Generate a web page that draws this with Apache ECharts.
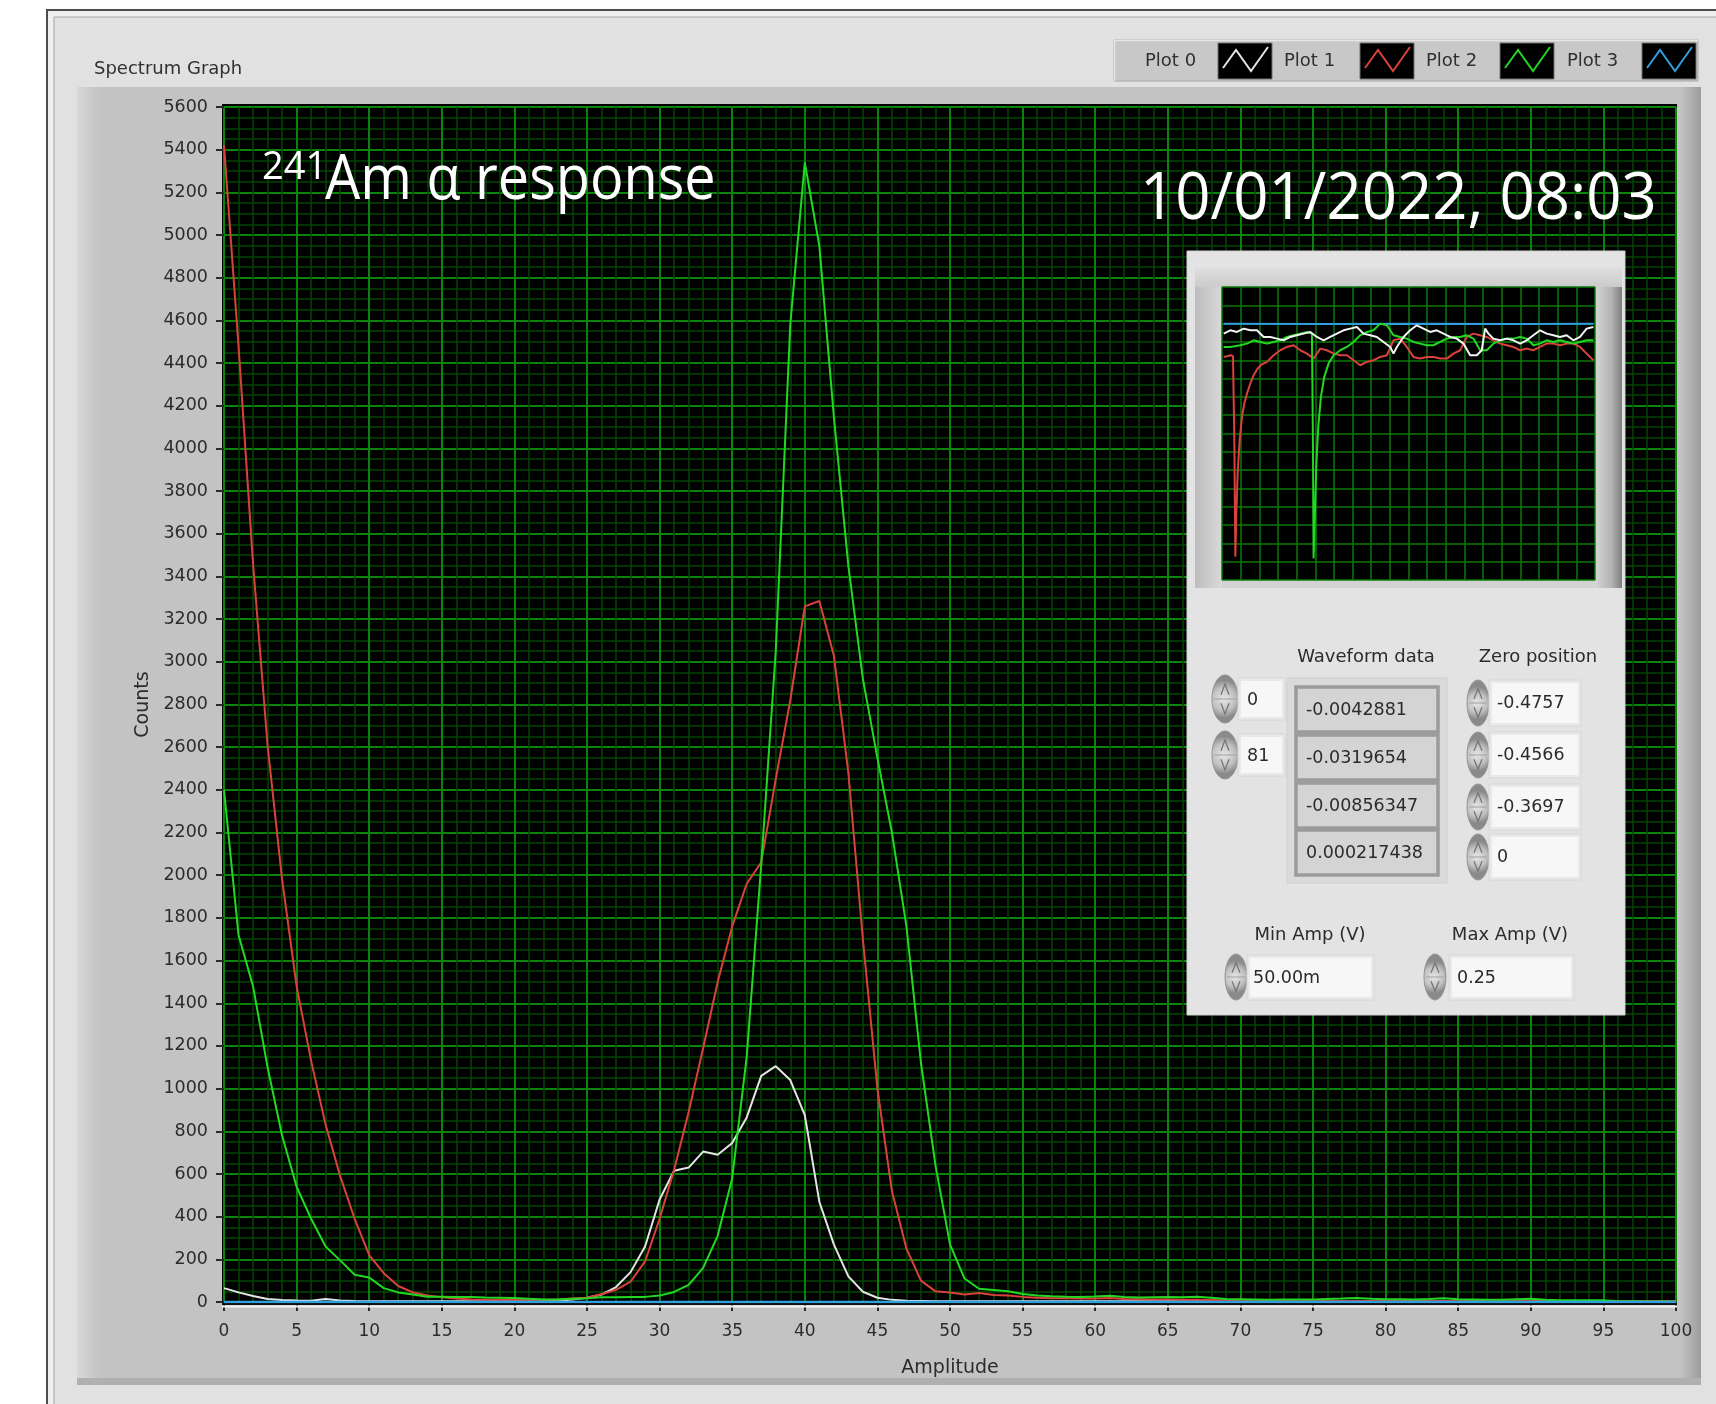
<!DOCTYPE html>
<html>
<head>
<meta charset="utf-8">
<title>Spectrum Graph</title>
<script src="https://cdn.jsdelivr.net/npm/echarts@6.0.0/dist/echarts.min.js"></script>
<style>
  html, body { margin: 0; padding: 0; background: #ffffff; }
  #chart { width: 1716px; height: 1404px; }
</style>
</head>
<body>
<div id="chart"></div>
<script>
// ---- Spectrum histogram: counts per amplitude bin (bins 0..100) ----
const plot0Counts = [
  65,45,28,14,9,7,6,14,7,5,
  4,4,3,3,3,4,4,3,3,4,
  4,3,4,6,12,20,35,70,140,260,
  480,615,630,705,690,745,865,1060,1105,1040,
  876,470,270,120,48,20,10,6,5,4,
  4,4,3,3,4,3,3,3,4,3,
  3,3,3,4,3,3,3,3,3,4,
  3,3,3,3,3,3,4,3,3,3,
  3,3,3,3,3,4,3,3,3,3,
  3,3,3,3,3,3,3,3,3,3,
  3
];
const plot1Counts = [
  5420,4480,3460,2610,1980,1480,1130,830,590,390,
  220,135,75,45,30,22,16,12,11,10,
  11,10,11,12,16,20,36,57,95,190,
  390,620,890,1190,1500,1760,1960,2060,2450,2820,
  3260,3285,3030,2480,1700,1000,520,250,100,50,
  45,35,42,33,30,24,20,18,17,16,
  16,19,14,13,12,12,11,10,9,8,
  8,8,7,7,6,6,5,5,5,5,
  5,5,4,5,5,5,4,5,5,5,
  5,4,5,5,4,5,5,4,5,5,
  5
];
const plot2Counts = [
  2400,1720,1480,1100,780,540,390,260,195,128,
  115,65,45,35,25,25,24,23,21,20,
  19,15,12,12,15,18,22,22,23,24,
  30,47,80,160,310,580,1150,2050,3050,4580,
  5340,4950,4150,3450,2920,2550,2200,1760,1120,640,
  270,110,62,56,50,38,30,27,25,24,
  26,29,24,21,22,23,22,25,20,14,
  13,12,11,12,12,12,14,16,19,15,
  13,13,12,14,18,13,12,11,11,13,
  15,10,8,8,8,8,4,3,2,2,
  2
];
const plot3Counts = [
  0,0,0,0,0,0,0,0,0,0, 0,0,0,0,0,0,0,0,0,0,
  0,0,0,0,0,0,0,0,0,0, 0,0,0,0,0,0,0,0,0,0,
  0,0,0,0,0,0,0,0,0,0, 0,0,0,0,0,0,0,0,0,0,
  0,0,0,0,0,0,0,0,0,0, 0,0,0,0,0,0,0,0,0,0,
  0,0,0,0,0,0,0,0,0,0, 0,0,0,0,0,0,0,0,0,0,
  0
];
const plotNames = ['Plot 0', 'Plot 1', 'Plot 2', 'Plot 3'];

// ---- Live waveform traces in the scope display: [sample, level] ----
const scopeTrace0 = [[5,-140],[25,-130],[45,-135],[65,-125],[85,-130],[105,-130],[125,-150],[145,-150],[165,-155],[185,-160],[205,-150],[225,-145],[245,-140],[265,-135],[285,-150],[305,-160],[325,-150],[345,-140],[365,-130],[385,-125],[405,-120],[425,-140],[445,-145],[465,-150],[485,-165],[505,-180],[515,-200],[525,-180],[545,-150],[565,-130],[585,-115],[605,-125],[625,-135],[645,-130],[665,-140],[685,-150],[705,-155],[725,-170],[745,-205],[765,-205],[780,-190],[790,-125],[800,-140],[815,-155],[835,-160],[855,-155],[875,-160],[895,-170],[915,-160],[935,-145],[955,-130],[975,-140],[995,-145],[1015,-150],[1035,-145],[1055,-160],[1075,-150],[1095,-125],[1115,-120]];
const scopeTrace1 = [[5,-210],[15,-208],[25,-205],[33,-207],[37,-460],[40,-810],[43,-680],[47,-560],[53,-460],[60,-390],[67,-350],[75,-320],[85,-290],[95,-265],[107,-245],[120,-232],[135,-225],[155,-205],[175,-190],[195,-180],[215,-175],[235,-190],[255,-200],[275,-215],[295,-185],[315,-190],[335,-200],[355,-205],[375,-205],[395,-220],[415,-235],[435,-225],[455,-220],[475,-210],[495,-205],[515,-160],[535,-155],[555,-180],[575,-210],[595,-215],[615,-210],[635,-210],[655,-215],[675,-215],[695,-200],[715,-190],[735,-150],[755,-140],[775,-145],[795,-150],[815,-160],[835,-170],[855,-175],[875,-180],[895,-190],[915,-185],[935,-190],[955,-180],[975,-170],[995,-170],[1015,-175],[1035,-170],[1055,-170],[1075,-180],[1095,-200],[1115,-220]];
const scopeTrace2 = [[5,-180],[25,-180],[55,-175],[75,-170],[95,-160],[115,-165],[135,-170],[155,-165],[175,-160],[195,-150],[215,-145],[235,-140],[255,-135],[270,-140],[273,-460],[275,-815],[279,-680],[283,-540],[289,-420],[297,-330],[307,-270],[320,-230],[335,-205],[355,-190],[375,-180],[395,-165],[415,-145],[435,-135],[455,-130],[475,-110],[495,-115],[515,-145],[535,-150],[555,-155],[575,-165],[595,-170],[615,-175],[635,-175],[655,-165],[675,-155],[695,-150],[715,-150],[735,-145],[755,-155],[775,-190],[795,-190],[815,-170],[835,-160],[855,-155],[875,-155],[895,-150],[915,-155],[935,-175],[955,-170],[975,-160],[995,-165],[1015,-160],[1035,-165],[1055,-170],[1075,-165],[1095,-160],[1115,-160]];
const scopeTrace3 = [[5,-110],[300,-111],[600,-110],[900,-111],[1115,-110]];

// ---- Front-panel indicator values ----
const indexValues = ['0', '81'];
const waveformData = ['-0.0042881', '-0.0319654', '-0.00856347', '0.000217438'];
const zeroPosition = ['-0.4757', '-0.4566', '-0.3697', '0'];
const minAmpText = '50.00m';
const maxAmpText = '0.25';

// Plot colours
const plotColors = ['#e4e4e4', '#d9423c', '#22d822', '#2f9fe0'];
const gridMajor = '#0a840a';
const gridMinor = '#024602';
const uiFont = '"DejaVu Sans", "Liberation Sans", sans-serif';
const textDark = '#2b2b2b';

const amplitudeBins = plot0Counts.map((_, i) => i);
const toXY = arr => arr.map((v, i) => [amplitudeBins[i], v]);

// ---- helpers for the front-panel decoration ----
function rect(x, y, w, h, style, z) {
  return { type: 'rect', shape: { x: x, y: y, width: w, height: h }, style: style, z: z, silent: true };
}
function label(x, y, str, opts) {
  opts = opts || {};
  return {
    type: 'text', x: x, y: y, z: opts.z || 20, silent: true,
    scaleX: opts.scaleX || 1,
    style: {
      text: str,
      fill: opts.fill || textDark,
      font: opts.font || ('18px ' + uiFont),
      textAlign: opts.align || 'left', align: opts.align || 'left',
      textVerticalAlign: 'middle', verticalAlign: 'middle'
    }
  };
}
function spinner(cx, cy, rx, ry, z) {
  const els = [];
  els.push({
    type: 'ellipse', shape: { cx: cx, cy: cy, rx: rx, ry: ry }, z: z, silent: true,
    style: {
      fill: { type: 'radial', x: 0.45, y: 0.5, r: 0.7,
        colorStops: [{ offset: 0, color: '#e6e6e6' }, { offset: 0.6, color: '#c2c2c2' }, { offset: 1, color: '#8a8a8a' }] },
      stroke: '#969696', lineWidth: 1
    }
  });
  els.push({ type: 'polyline', z: z + 1, silent: true,
    shape: { points: [[cx - 4, cy - ry * 0.18], [cx, cy - ry * 0.62], [cx + 4, cy - ry * 0.18]] },
    style: { stroke: '#777777', lineWidth: 1.3, fill: null } });
  els.push({ type: 'polyline', z: z + 1, silent: true,
    shape: { points: [[cx - 4, cy + ry * 0.18], [cx, cy + ry * 0.62], [cx + 4, cy + ry * 0.18]] },
    style: { stroke: '#777777', lineWidth: 1.3, fill: null } });
  els.push({ type: 'line', z: z + 1, silent: true,
    shape: { x1: cx - rx + 2, y1: cy, x2: cx + rx - 2, y2: cy },
    style: { stroke: '#a0a0a0', lineWidth: 1 } });
  return els;
}
function field(x, y, w, h, z) {
  return [
    rect(x - 3, y - 3, w + 6, h + 6, { fill: '#e9e9e9', stroke: '#d6d6d6', lineWidth: 1 }, z),
    rect(x, y, w, h, { fill: '#f7f7f7' }, z + 1)
  ];
}

const elements = [];

// outer front-panel frame
elements.push(rect(47, 10, 1720, 1430, { fill: '#efefef', stroke: '#4c4c4c', lineWidth: 2 }, -30));
elements.push(rect(54, 17, 1720, 1430, { fill: '#e1e1e1', stroke: '#a4a4a4', lineWidth: 1 }, -29));

// graph body with bevelled edges
elements.push(rect(77, 87, 1624, 1298, { fill: '#c3c3c3' }, -25));
elements.push(rect(77, 87, 22, 1298, {
  fill: { type: 'linear', x: 0, y: 0, x2: 1, y2: 0,
    colorStops: [{ offset: 0, color: '#d8d8d8' }, { offset: 1, color: '#c3c3c3' }] } }, -24));
elements.push(rect(1680, 87, 21, 1298, {
  fill: { type: 'linear', x: 0, y: 0, x2: 1, y2: 0,
    colorStops: [{ offset: 0, color: '#c3c3c3' }, { offset: 1, color: '#9c9c9c' }] } }, -24));
elements.push(rect(77, 1378, 1624, 7, { fill: '#b0b0b0' }, -24));

// plot background
elements.push(rect(222, 104, 1455, 1199, { fill: '#000000' }, -5));
// x axis double rule
elements.push({ type: 'line', z: 1, silent: true, shape: { x1: 222, y1: 1304, x2: 1677, y2: 1304 }, style: { stroke: '#111', lineWidth: 2 } });
elements.push({ type: 'line', z: 1, silent: true, shape: { x1: 222, y1: 1306.5, x2: 1677, y2: 1306.5 }, style: { stroke: '#f4f4f4', lineWidth: 2 } });

// graph caption
elements.push(label(94, 69, 'Spectrum Graph', { font: '18px ' + uiFont, fill: '#303030' }));

// plot legend box
elements.push(rect(1114, 40, 584, 41, { fill: '#c8c8c8', stroke: '#a8a8a8', lineWidth: 1 }, 18));
elements.push({ type: 'line', z: 19, silent: true, shape: { x1: 1114, y1: 40.5, x2: 1698, y2: 40.5 }, style: { stroke: '#e6e6e6', lineWidth: 1.5 } });
elements.push({ type: 'line', z: 19, silent: true, shape: { x1: 1114.5, y1: 40, x2: 1114.5, y2: 81 }, style: { stroke: '#e6e6e6', lineWidth: 1.5 } });
const legendTextX = [1145, 1284, 1426, 1567];
const legendSwatchX = [1218, 1360, 1500, 1642];
plotNames.forEach((name, i) => {
  elements.push(label(legendTextX[i], 61, name, { font: '18px ' + uiFont, fill: '#303030', z: 20 }));
  const sx = legendSwatchX[i];
  elements.push(rect(sx, 43, 54, 36, { fill: '#000', stroke: '#6e6e6e', lineWidth: 1 }, 20));
  elements.push({ type: 'polyline', z: 21, silent: true,
    shape: { points: [[sx + 5, 68], [sx + 18, 50], [sx + 33, 71], [sx + 50, 47]] },
    style: { stroke: plotColors[i], lineWidth: 2, fill: null } });
});

// annotation texts on the plot
elements.push(label(262, 168, '241', { font: '38px "Open Sans", sans-serif', fill: '#ffffff', scaleX: 1.0, z: 30 }));
elements.push(label(325, 181, 'Am \u03b1 response', { font: '62px "Open Sans", sans-serif', fill: '#ffffff', scaleX: 0.9, z: 30 }));
elements.push(label(1140, 200, '10/01/2022, 08:03', { font: '66px "Open Sans", sans-serif', fill: '#ffffff', scaleX: 0.935, z: 30 }));

// ---- scope / control panel ----
elements.push(rect(1187, 251, 438, 764, { fill: '#e3e3e3', stroke: '#d0d0d0', lineWidth: 1 }, 10));
// scope bezel
elements.push(rect(1195, 268, 427, 320, { fill: '#d3d3d3' }, 10));
elements.push(rect(1195, 268, 27, 320, {
  fill: { type: 'linear', x: 0, y: 0, x2: 1, y2: 0,
    colorStops: [{ offset: 0, color: '#bdbdbd' }, { offset: 1, color: '#d9d9d9' }] } }, 10));
elements.push(rect(1595, 268, 27, 320, {
  fill: { type: 'linear', x: 0, y: 0, x2: 1, y2: 0,
    colorStops: [{ offset: 0, color: '#d6d6d6' }, { offset: 0.6, color: '#b4b4b4' }, { offset: 1, color: '#7e7e7e' }] } }, 10));
elements.push(rect(1195, 268, 427, 19, {
  fill: { type: 'linear', x: 0, y: 0, x2: 0, y2: 1,
    colorStops: [{ offset: 0, color: '#dedede' }, { offset: 1, color: '#cbcbcb' }] } }, 10));
elements.push(rect(1222, 287, 373, 293, { fill: '#000000' }, 11));

// index controls
indexValues.forEach((v, i) => {
  const cy = i === 0 ? 699 : 755;
  spinner(1225, cy, 13, 24, 12).forEach(e => elements.push(e));
  field(1241, cy - 18, 41, 36, 12).forEach(e => elements.push(e));
  elements.push(label(1247, cy + 1, v, { font: '17.5px ' + uiFont, z: 20 }));
});

// waveform data array
elements.push(label(1366, 657, 'Waveform data', { font: '18px ' + uiFont, align: 'center' }));
elements.push(rect(1287, 678, 160, 205, { fill: '#dadada', stroke: '#cfcfcf', lineWidth: 1 }, 12));
const cellTops = [687, 735, 783, 830];
waveformData.forEach((v, i) => {
  elements.push(rect(1296, cellTops[i], 142, 45, { fill: '#d4d4d4', stroke: '#9b9b9b', lineWidth: 3.5 }, 13));
  elements.push(label(1306, cellTops[i] + 23, v, { font: '17.5px ' + uiFont, z: 20 }));
});

// zero position controls
elements.push(label(1538, 657, 'Zero position', { font: '18px ' + uiFont, align: 'center' }));
const zeroRows = [703, 755, 807, 857];
zeroPosition.forEach((v, i) => {
  const cy = zeroRows[i];
  spinner(1478, cy, 11, 23, 12).forEach(e => elements.push(e));
  field(1492, cy - 20, 86, 40, 12).forEach(e => elements.push(e));
  elements.push(label(1497, cy, v, { font: '17.5px ' + uiFont, z: 20 }));
});

// amplitude limits
elements.push(label(1310, 935, 'Min Amp (V)', { font: '18px ' + uiFont, align: 'center' }));
elements.push(label(1510, 935, 'Max Amp (V)', { font: '18px ' + uiFont, align: 'center' }));
spinner(1236, 977, 11, 23, 12).forEach(e => elements.push(e));
field(1250, 958, 121, 39, 12).forEach(e => elements.push(e));
elements.push(label(1253, 978, minAmpText, { font: '17.5px ' + uiFont, z: 20 }));
spinner(1435, 977, 11, 23, 12).forEach(e => elements.push(e));
field(1452, 958, 119, 39, 12).forEach(e => elements.push(e));
elements.push(label(1457, 978, maxAmpText, { font: '17.5px ' + uiFont, z: 20 }));

const axisLabelStyle = { color: textDark, fontFamily: uiFont, fontSize: 17, formatter: v => String(v) };

const option = {
  animation: false,
  backgroundColor: '#ffffff',
  grid: [
    { left: 224, top: 107, width: 1452, height: 1195, containLabel: false },
    { left: 1222, top: 287, width: 373, height: 293, containLabel: false }
  ],
  xAxis: [
    {
      type: 'value', gridIndex: 0, min: 0, max: 100, interval: 5, offset: 6, z: 0,
      name: 'Amplitude', nameLocation: 'middle', nameGap: 51,
      nameTextStyle: { color: textDark, fontFamily: uiFont, fontSize: 19 },
      axisLine: { show: false },
      axisTick: { show: true, length: 9, lineStyle: { color: '#2a2a2a', width: 2 } },
      axisLabel: Object.assign({ margin: 15 }, axisLabelStyle),
      splitLine: { show: true, lineStyle: { color: gridMajor, width: 2 } },
      minorTick: { show: false, splitNumber: 5 },
      minorSplitLine: { show: true, lineStyle: { color: gridMinor, width: 1.5 } }
    },
    {
      type: 'value', gridIndex: 1, min: 0, max: 1120, interval: 56, z: 12,
      axisLine: { show: false }, axisTick: { show: false }, axisLabel: { show: false },
      splitLine: { show: true, lineStyle: { color: '#0a7a0a', width: 1.5 } }
    }
  ],
  yAxis: [
    {
      type: 'value', gridIndex: 0, min: 0, max: 5600, interval: 200, offset: 5, z: 0,
      name: 'Counts', nameLocation: 'middle', nameGap: 59,
      nameTextStyle: { color: textDark, fontFamily: uiFont, fontSize: 19 },
      axisLine: { show: false },
      axisTick: { show: true, length: 8, lineStyle: { color: '#2a2a2a', width: 2 } },
      axisLabel: Object.assign({ margin: 11 }, axisLabelStyle, { fontSize: 17.5 }),
      splitLine: { show: true, lineStyle: { color: gridMajor, width: 2 } },
      minorTick: { show: false, splitNumber: 4 },
      minorSplitLine: { show: true, lineStyle: { color: gridMinor, width: 1.5 } }
    },
    {
      type: 'value', gridIndex: 1, min: -880, max: 0, interval: 55, z: 12,
      axisLine: { show: false }, axisTick: { show: false }, axisLabel: { show: false },
      splitLine: { show: true, lineStyle: { color: '#0a7a0a', width: 1.5 } }
    }
  ],
  series: [
    { name: plotNames[0], type: 'line', data: toXY(plot0Counts), showSymbol: false, z: 2,
      lineStyle: { color: plotColors[0], width: 2 }, itemStyle: { color: plotColors[0] } },
    { name: plotNames[1], type: 'line', data: toXY(plot1Counts), showSymbol: false, z: 2,
      lineStyle: { color: plotColors[1], width: 2 }, itemStyle: { color: plotColors[1] } },
    { name: plotNames[2], type: 'line', data: toXY(plot2Counts), showSymbol: false, z: 2,
      lineStyle: { color: plotColors[2], width: 2 }, itemStyle: { color: plotColors[2] } },
    { name: plotNames[3], type: 'line', data: toXY(plot3Counts), showSymbol: false, z: 2,
      lineStyle: { color: plotColors[3], width: 2.5 }, itemStyle: { color: plotColors[3] } },
    { type: 'line', xAxisIndex: 1, yAxisIndex: 1, data: scopeTrace3, showSymbol: false, z: 13,
      lineStyle: { color: plotColors[3], width: 2 } },
    { type: 'line', xAxisIndex: 1, yAxisIndex: 1, data: scopeTrace1, showSymbol: false, z: 13,
      lineStyle: { color: plotColors[1], width: 2 } },
    { type: 'line', xAxisIndex: 1, yAxisIndex: 1, data: scopeTrace2, showSymbol: false, z: 13,
      lineStyle: { color: plotColors[2], width: 2 } },
    { type: 'line', xAxisIndex: 1, yAxisIndex: 1, data: scopeTrace0, showSymbol: false, z: 13,
      lineStyle: { color: '#f4f4f4', width: 2 } }
  ],
  graphic: { elements: elements }
};

const chart = echarts.init(document.getElementById('chart'), null, { renderer: 'canvas', width: 1716, height: 1404 });
chart.setOption(option);
</script>
</body>
</html>
